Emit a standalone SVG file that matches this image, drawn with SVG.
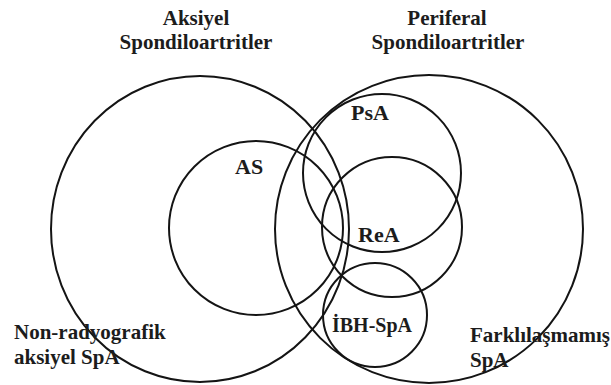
<svg xmlns="http://www.w3.org/2000/svg" width="611" height="385" viewBox="0 0 611 385">
<style>
.c{fill:none;stroke:#141414;stroke-width:2}
.t{font-family:"Liberation Serif","Times New Roman",serif;font-weight:bold;fill:#1c1c1c}
.h{font-size:21px;text-anchor:middle}
.l{font-size:22px}
.s{font-size:21px}
</style>
<rect width="611" height="385" fill="#ffffff"/>
<g id="title-axial">
<text class="t h" x="196" y="25">Aksiyel</text>
<text class="t h" x="196" y="49">Spondiloartritler</text>
</g>
<g id="title-peripheral">
<text class="t h" x="447" y="25">Periferal</text>
<text class="t h" x="448" y="49">Spondiloartritler</text>
</g>
<g id="axial">
<ellipse class="c" cx="200" cy="229" rx="149" ry="153"/>
<text class="t s" x="14" y="339">Non-radyografik</text>
<text class="t s" x="14" y="364">aksiyel SpA</text>
</g>
<g id="peripheral">
<circle class="c" cx="429" cy="229" r="154"/>
<text class="t s" x="470" y="342">Farklılaşmamış</text>
<text class="t s" x="470" y="367">SpA</text>
</g>
<g id="as">
<circle class="c" cx="256" cy="228" r="87"/>
<text class="t l" x="235" y="174">AS</text>
</g>
<g id="psa">
<circle class="c" cx="382" cy="173" r="79"/>
<text class="t l" x="351" y="120">PsA</text>
</g>
<g id="rea">
<circle class="c" cx="392" cy="227" r="70"/>
<text class="t l" x="358" y="242">ReA</text>
</g>
<g id="ibh">
<circle class="c" cx="375" cy="315" r="52"/>
<text class="t" style="font-size:20px" x="332" y="332">İBH-SpA</text>
</g>
</svg>
